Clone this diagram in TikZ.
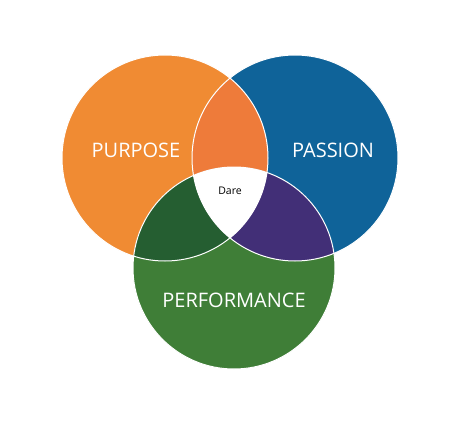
\documentclass[tikz,border=0pt]{standalone}
\usepackage{fontspec}
\setmainfont{Open Sans}
\usetikzlibrary{positioning}
\definecolor{purposeorange}{HTML}{F08B33}
\definecolor{passionblue}{HTML}{0F6399}
\definecolor{perfgreen}{HTML}{3F7E37}
\definecolor{lensorange}{HTML}{EE7B3A}
\definecolor{lensgreen}{HTML}{255E31}
\definecolor{lenspurple}{HTML}{422F77}
\tikzset{
  bigword/.style={text=white, font=\fontsize{20}{24}\selectfont, inner sep=0pt},
  smallword/.style={text=black, font=\fontsize{10.5}{12}\selectfont, inner sep=0pt},
  rim/.style={draw=white, line width=1pt}
}

\begin{document}
\begin{tikzpicture}[x=1pt, y=1pt]
  \useasboundingbox[fill=white] (0,0) rectangle (474,424);

  % Circle centres
  \coordinate (purpose) at (165,266);
  \coordinate (passion) at (295,266);
  \coordinate (perform) at (234,156);

  % Main discs
  \fill[purposeorange] (purpose) circle (103);
  \fill[passionblue] (passion) circle (103);
  \fill[perfgreen] (perform) circle (101);

  % Pairwise overlaps
  \begin{scope}
    \clip (purpose) circle (103);
    \fill[lensorange] (passion) circle (103);
  \end{scope}
  \begin{scope}
    \clip (purpose) circle (103);
    \fill[lensgreen] (perform) circle (101);
  \end{scope}
  \begin{scope}
    \clip (passion) circle (103);
    \fill[lenspurple] (perform) circle (101);
  \end{scope}

  % Centre overlap
  \begin{scope}
    \clip (purpose) circle (103);
    \clip (passion) circle (103);
    \fill[white] (perform) circle (101);
  \end{scope}

  % White rims
  \draw[rim] (purpose) circle (103);
  \draw[rim] (passion) circle (103);
  \draw[rim] (perform) circle (101);

  % Labels
  \node[bigword] (purposelbl) at (136,274) {PURPOSE};
  \node[bigword] (passionlbl) at (333,274) {PASSION};
  \node[bigword] (performlbl) at (234,124) {PERFORMANCE};
  \node[smallword] (darelbl) at (230,233) {Dare};
\end{tikzpicture}
\end{document}
